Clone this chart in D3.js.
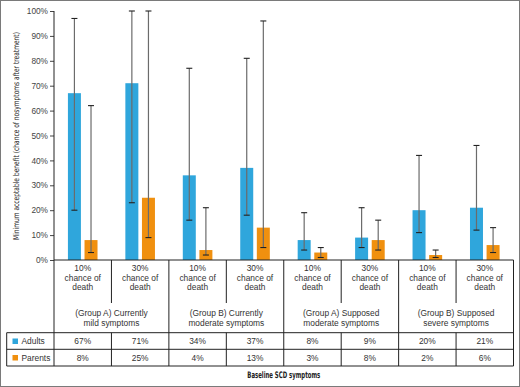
<!DOCTYPE html>
<html>
<head>
<meta charset="utf-8">
<script src="https://cdn.jsdelivr.net/npm/d3@7"></script>
<style>
  body { margin: 0; background: #fff; }
  svg { display: block; font-family: "Liberation Sans", Arial, sans-serif; }
  .narrow { font-family: "Liberation Sans Narrow", "DejaVu Sans Condensed", sans-serif; }
</style>
</head>
<body>
<div id="chart"></div>
<script>
// chart values
var deathRisk = ["10%", "30%", "10%", "30%", "10%", "30%", "10%", "30%"];
var groups = [
  ["(Group A) Currently", "mild symptoms"],
  ["(Group B) Currently", "moderate symptoms"],
  ["(Group A) Supposed", "moderate symptoms"],
  ["(Group B) Supposed", "severe symptoms"]
];
var series = ["Adults", "Parents"];
var adults = [67, 71, 34, 37, 8, 9, 20, 21];
var parents = [8, 25, 4, 13, 3, 8, 2, 6];
var adultsLow = [20, 23, 16, 18, 4, 5, 11, 12];
var adultsHigh = [97, 100, 77, 81, 19, 21, 42, 46];
var parentsLow = [3, 9, 2, 5, 1, 4, 1, 3];
var parentsHigh = [62, 100, 21, 96, 5, 16, 4, 13];
var yTicks = [0, 10, 20, 30, 40, 50, 60, 70, 80, 90, 100];

var W = 520, H = 387;
var margin = {top: 11, left: 54, right: 6.5};
var plotBottom = 260;

var svg = d3.select("#chart").append("svg")
  .attr("width", W).attr("height", H);

// outer frame
svg.append("rect")
  .attr("x", 0.5).attr("y", 0.5)
  .attr("width", W - 1).attr("height", H - 1)
  .attr("fill", "none").attr("stroke", "#7a7a7a");

var idx = d3.range(deathRisk.length);
var x0 = d3.scaleBand().domain(idx).range([margin.left, W - margin.right]).paddingInner(0).paddingOuter(0);
var x1 = d3.scaleBand().domain(series).range([0, x0.bandwidth()]).paddingInner(0.217).paddingOuter(0.839);
var y = d3.scaleLinear().domain([0, 100]).range([plotBottom, margin.top]);
var color = d3.scaleOrdinal().domain(series).range(["#2fa6dc", "#f0900f"]);

// squeeze a label to a given width (condensed look)
function fitText(sel, w, tr) {
  var len = sel.node().getComputedTextLength();
  sel.attr("transform", tr + " scale(" + (w / len) + ",1)");
}

// y axis
var yAxis = svg.append("g")
  .attr("transform", "translate(" + margin.left + ",0)")
  .call(d3.axisLeft(y).tickValues(yTicks).tickSize(4).tickPadding(2).tickFormat(function(d) { return d + "%"; }));
yAxis.select(".domain").remove();
yAxis.selectAll("line").attr("stroke", "#444");
yAxis.selectAll("text").attr("font-size", 8.3).attr("fill", "#444")
  .attr("font-family", "Liberation Sans, Arial, sans-serif");

var yTitle = svg.append("text")
  .attr("class", "narrow")
  .attr("text-anchor", "middle")
  .attr("font-size", 8).attr("fill", "#222")
  .text("Minimum acceptable benefit (chance of nosymptoms after treatment)");
fitText(yTitle, 208, "translate(18.5,136) rotate(-90)");

// bars
var data = idx.map(function(i) {
  return [
    {key: "Adults", i: i, v: adults[i], lo: adultsLow[i], hi: adultsHigh[i]},
    {key: "Parents", i: i, v: parents[i], lo: parentsLow[i], hi: parentsHigh[i]}
  ];
});
var cat = svg.append("g").selectAll("g").data(data).enter().append("g")
  .attr("transform", function(d, i) { return "translate(" + x0(i) + ",0)"; });

cat.selectAll("rect").data(function(d) { return d; }).enter().append("rect")
  .attr("x", function(d) { return x1(d.key); })
  .attr("width", x1.bandwidth())
  .attr("y", function(d) { return y(d.v); })
  .attr("height", function(d) { return y(0) - y(d.v); })
  .attr("fill", function(d) { return color(d.key); });

// error bars
var err = cat.selectAll("g.err").data(function(d) { return d; }).enter().append("g")
  .attr("class", "err")
  .attr("transform", function(d) { return "translate(" + (x1(d.key) + x1.bandwidth() / 2) + ",0)"; });
err.append("line")
  .attr("y1", function(d) { return y(d.lo); }).attr("y2", function(d) { return y(d.hi); })
  .attr("stroke", "#6b6b6b").attr("stroke-width", 1.2);
err.selectAll("line.cap").data(function(d) { return [d.lo, d.hi]; }).enter().append("line")
  .attr("class", "cap")
  .attr("x1", -3).attr("x2", 3)
  .attr("y1", function(d) { return y(d); }).attr("y2", function(d) { return y(d); })
  .attr("stroke", "#222").attr("stroke-width", 1.1);

// table
var tbl = svg.append("g").attr("stroke", "#222").attr("stroke-width", 1);
var rowA = 332.7, rowB = 349.3, rowC = 366;
var xEnd = x0(deathRisk.length - 1) + x0.bandwidth();
tbl.append("line").attr("x1", margin.left).attr("x2", xEnd).attr("y1", plotBottom).attr("y2", plotBottom);
tbl.append("line").attr("x1", margin.left).attr("x2", margin.left).attr("y1", margin.top).attr("y2", rowC);
[rowA, rowB, rowC].forEach(function(r) {
  tbl.append("line").attr("x1", 6.7).attr("x2", xEnd).attr("y1", r).attr("y2", r);
});
tbl.append("line").attr("x1", 6.7).attr("x2", 6.7).attr("y1", rowA).attr("y2", rowC);
idx.forEach(function(i) {
  var xr = x0(i) + x0.bandwidth();
  var groupEdge = (i % 2 === 1);
  tbl.append("line").attr("x1", xr).attr("x2", xr)
    .attr("y1", plotBottom)
    .attr("y2", groupEdge ? rowC : 303);
  if (!groupEdge) {
    tbl.append("line").attr("x1", xr).attr("x2", xr).attr("y1", rowA).attr("y2", rowC);
  }
});

var txt = svg.append("g").attr("font-size", 8.4).attr("fill", "#333").attr("text-anchor", "middle");
idx.forEach(function(i) {
  var cx = x0(i) + x0.bandwidth() / 2;
  [deathRisk[i], "chance of", "death"].forEach(function(s, k) {
    txt.append("text").attr("x", cx).attr("y", 271 + k * 9.6).text(s);
  });
  txt.append("text").attr("x", cx).attr("y", 344).text(adults[i] + "%");
  txt.append("text").attr("x", cx).attr("y", 360.5).text(parents[i] + "%");
});
groups.forEach(function(g, j) {
  var cx = x0(j * 2) + x0.bandwidth();
  g.forEach(function(s, k) {
    txt.append("text").attr("x", cx).attr("y", 316 + k * 9.8).text(s);
  });
});

// legend cells
series.forEach(function(s, k) {
  var yy = k === 0 ? 344 : 360.5;
  svg.append("rect").attr("x", 12.5).attr("y", yy - 5.5).attr("width", 5.5).attr("height", 5.5).attr("fill", color(s));
  svg.append("text").attr("x", 21.5).attr("y", yy).attr("font-size", 8.4).attr("fill", "#333").text(s);
});

var xTitle = svg.append("text")
  .attr("class", "narrow")
  .attr("text-anchor", "middle")
  .attr("font-size", 9).attr("font-weight", "bold").attr("fill", "#222")
  .text("Baseline SCD symptoms");
fitText(xTitle, 73, "translate(" + ((margin.left + xEnd) / 2) + ",378)");
</script>
</body>
</html>
